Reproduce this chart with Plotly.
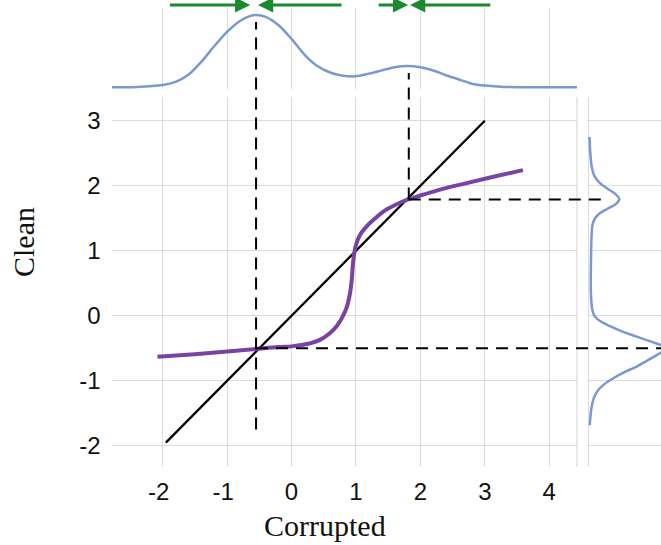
import plotly.graph_objects as go

# ---- data -------------------------------------------------------------
# identity reference line (clean == corrupted)
identity_x = [-1.95, 3.0]
identity_y = [-1.95, 3.0]

# learned mapping from corrupted value to clean value
map_x = [-2.08, -1.5, -1.0, -0.55, -0.2, 0.0, 0.15, 0.3, 0.44, 0.58, 0.70, 0.79,
         0.86, 0.91, 0.935, 0.96, 1.00, 1.06, 1.17, 1.30, 1.42, 1.60,
         1.81, 2.00, 2.20, 2.45, 2.72, 3.10, 3.59]
map_y = [-0.63, -0.59, -0.55, -0.51, -0.48, -0.47, -0.45, -0.42, -0.37, -0.28, -0.16, -0.02,
         0.14, 0.36, 0.56, 0.86, 1.09, 1.24, 1.38, 1.50, 1.60, 1.70,
         1.79, 1.85, 1.91, 1.98, 2.04, 2.13, 2.24]

# density of the corrupted values
corrupt_x = [-2.79, -2.4, -2.0, -1.8, -1.6, -1.4, -1.2, -1.0, -0.8, -0.65, -0.55, -0.4,
             -0.2, 0.0, 0.2, 0.4, 0.6, 0.8, 1.0, 1.2, 1.4, 1.6, 1.8, 2.0, 2.2, 2.4,
             2.6, 2.8, 3.0, 3.3, 3.8, 4.43]
corrupt_density = [0.0, 0.003, 0.016, 0.037, 0.085, 0.173, 0.279, 0.377, 0.451, 0.484, 0.492, 0.479,
                   0.422, 0.329, 0.223, 0.145, 0.101, 0.079, 0.075, 0.093, 0.115, 0.137, 0.145, 0.136, 0.114, 0.082,
                   0.053, 0.025, 0.012, 0.003, 0.001, 0.0]

# density of the clean values
clean_y = [2.75, 2.50, 2.30, 2.15, 2.04, 1.95, 1.88, 1.80, 1.72, 1.65, 1.58, 1.50, 1.40,
           1.20, 0.90, 0.60, 0.30, 0.10, 0.00, -0.08, -0.16, -0.24, -0.32, -0.40, -0.45,
           -0.50, -0.55, -0.62, -0.70, -0.78, -0.87, -0.96, -1.05, -1.14, -1.25, -1.40,
           -1.55, -1.68]
clean_density = [0.003, 0.009, 0.018, 0.037, 0.075, 0.129, 0.177, 0.206, 0.184, 0.129, 0.075, 0.041, 0.024,
                 0.017, 0.014, 0.012, 0.014, 0.022, 0.037, 0.075, 0.143, 0.224, 0.324, 0.428, 0.490,
                 0.544, 0.503, 0.449, 0.388, 0.324, 0.238, 0.165, 0.105, 0.063, 0.035, 0.018,
                 0.010, 0.005]

# fixed points of the mapping
fixed_x = [-0.55, 1.82]
fixed_y = [-0.50, 1.79]

# arrows showing where corrupted values are pulled to
arrow_tail = [-1.91, 0.80, 1.33, 3.11]
arrow_head = [-0.64, -0.52, 1.81, 1.84]

x_ticks = [-2, -1, 0, 1, 2, 3, 4]
x_ticktext = ["-2\u2004", "-1\u2004", "0", "1", "2", "3", "4"]
y_ticks = [-2, -1, 0, 1, 2, 3]
y_ticktext = ["-2", "-1", "0", "1", "2", "3"]

# ---- layout geometry --------------------------------------------------
X_RANGE = [-2.79, 4.43]
Y_RANGE = [-2.32, 3.37]
TOP_RANGE = [-0.012, 0.539]
RIGHT_RANGE = [-0.012, 0.49]

X_DOM = [0.1690, 0.8729]
Y_DOM = [0.1437, 0.8226]
TOP_DOM = [0.8365, 0.9853]
RIGHT_DOM = [0.8884, 1.0]


def to_paper(v, rng, dom):
    return dom[0] + (v - rng[0]) / (rng[1] - rng[0]) * (dom[1] - dom[0])


GRID = "#dcdcdc"
DENS = "#7b98d0"
PURPLE = "#7843a4"
GREEN = "#1b8a2f"
TICK_FONT = dict(family="Liberation Sans, Arial, sans-serif", size=24, color="#111")
TITLE_FONT = dict(family="Liberation Serif, Times New Roman, serif", size=30, color="#111")

fig = go.Figure()

fig.add_trace(go.Scatter(x=identity_x, y=identity_y, mode="lines",
                         line=dict(color="black", width=2.3), xaxis="x", yaxis="y"))
fig.add_trace(go.Scatter(x=map_x, y=map_y, mode="lines",
                         line=dict(color=PURPLE, width=4, shape="spline", smoothing=1.0),
                         xaxis="x", yaxis="y"))
fig.add_trace(go.Scatter(x=corrupt_x, y=corrupt_density, mode="lines",
                         line=dict(color=DENS, width=2.5, shape="spline", smoothing=0.8),
                         xaxis="x2", yaxis="y2"))
fig.add_trace(go.Scatter(x=clean_density, y=clean_y, mode="lines",
                         line=dict(color=DENS, width=2.5, shape="spline", smoothing=0.8),
                         xaxis="x3", yaxis="y3"))

dash = dict(color="black", width=2, dash="12px,8px")
shapes = [
    # right border of the main panel
    dict(type="line", xref="x domain", yref="y domain", x0=1, x1=1, y0=0, y1=1,
         line=dict(color=GRID, width=1.3), layer="below"),
    # vertical guides from the fixed points up into the top density
    dict(type="line", xref="x", yref="paper", x0=fixed_x[0], x1=fixed_x[0],
         y0=to_paper(-1.75, Y_RANGE, Y_DOM), y1=to_paper(0.444, TOP_RANGE, TOP_DOM), line=dash),
    dict(type="line", xref="x", yref="paper", x0=fixed_x[1], x1=fixed_x[1],
         y0=to_paper(fixed_y[1], Y_RANGE, Y_DOM), y1=to_paper(0.097, TOP_RANGE, TOP_DOM), line=dash),
    # horizontal guides from the fixed points across to the right density
    dict(type="line", xref="paper", yref="y", y0=fixed_y[0], y1=fixed_y[0],
         x0=to_paper(fixed_x[0], X_RANGE, X_DOM), x1=1.0, line=dash),
    dict(type="line", xref="paper", yref="y", y0=fixed_y[1], y1=fixed_y[1],
         x0=to_paper(fixed_x[1], X_RANGE, X_DOM), x1=to_paper(0.109, RIGHT_RANGE, RIGHT_DOM), line=dash),
]

annotations = []
for t, h in zip(arrow_tail, arrow_head):
    annotations.append(dict(x=h, y=0.9908, xref="x", yref="paper", ax=t, axref="x",
                            ay=0, ayref="pixel", text="", showarrow=True,
                            arrowhead=2, arrowsize=0.95, arrowwidth=3.2, arrowcolor=GREEN))
annotations.append(dict(text="Corrupted", x=325 / 661, y=1 - 525 / 545, xref="paper", yref="paper",
                        showarrow=False, font=TITLE_FONT, xanchor="center", yanchor="middle"))
annotations.append(dict(text="Clean", x=23 / 661, y=1 - 242 / 545, xref="paper", yref="paper",
                        showarrow=False, font=TITLE_FONT, textangle=-90,
                        xanchor="center", yanchor="middle"))

fig.update_layout(
    width=661, height=545,
    margin=dict(l=0, r=0, t=0, b=0),
    paper_bgcolor="white", plot_bgcolor="white",
    showlegend=False,
    xaxis=dict(domain=X_DOM, range=X_RANGE, tickvals=x_ticks, ticktext=x_ticktext,
               showgrid=True, gridcolor=GRID, gridwidth=1.2, zeroline=False, showline=False,
               ticks="", ticklabelstandoff=8, tickfont=TICK_FONT, anchor="y"),
    yaxis=dict(domain=Y_DOM, range=Y_RANGE, tickvals=y_ticks, ticktext=y_ticktext,
               showgrid=True, gridcolor=GRID, gridwidth=1.2, zeroline=False, showline=False,
               ticks="", ticklabelstandoff=10, tickfont=TICK_FONT, anchor="x"),
    xaxis2=dict(domain=X_DOM, range=X_RANGE, tickvals=x_ticks, matches="x",
                showgrid=True, gridcolor=GRID, gridwidth=1.2, zeroline=False,
                showticklabels=False, ticks="", anchor="y2"),
    yaxis2=dict(domain=TOP_DOM, range=TOP_RANGE, showgrid=False, zeroline=False,
                showticklabels=False, ticks="", anchor="x2"),
    xaxis3=dict(domain=RIGHT_DOM, range=RIGHT_RANGE, showgrid=False, zeroline=True,
                zerolinecolor=GRID, zerolinewidth=1.3, showticklabels=False, ticks="", anchor="y3"),
    yaxis3=dict(domain=Y_DOM, range=Y_RANGE, tickvals=y_ticks, matches="y",
                showgrid=True, gridcolor=GRID, gridwidth=1.2, zeroline=False,
                showticklabels=False, ticks="", anchor="x3"),
    shapes=shapes,
    annotations=annotations,
)

fig.write_html("out.html")
